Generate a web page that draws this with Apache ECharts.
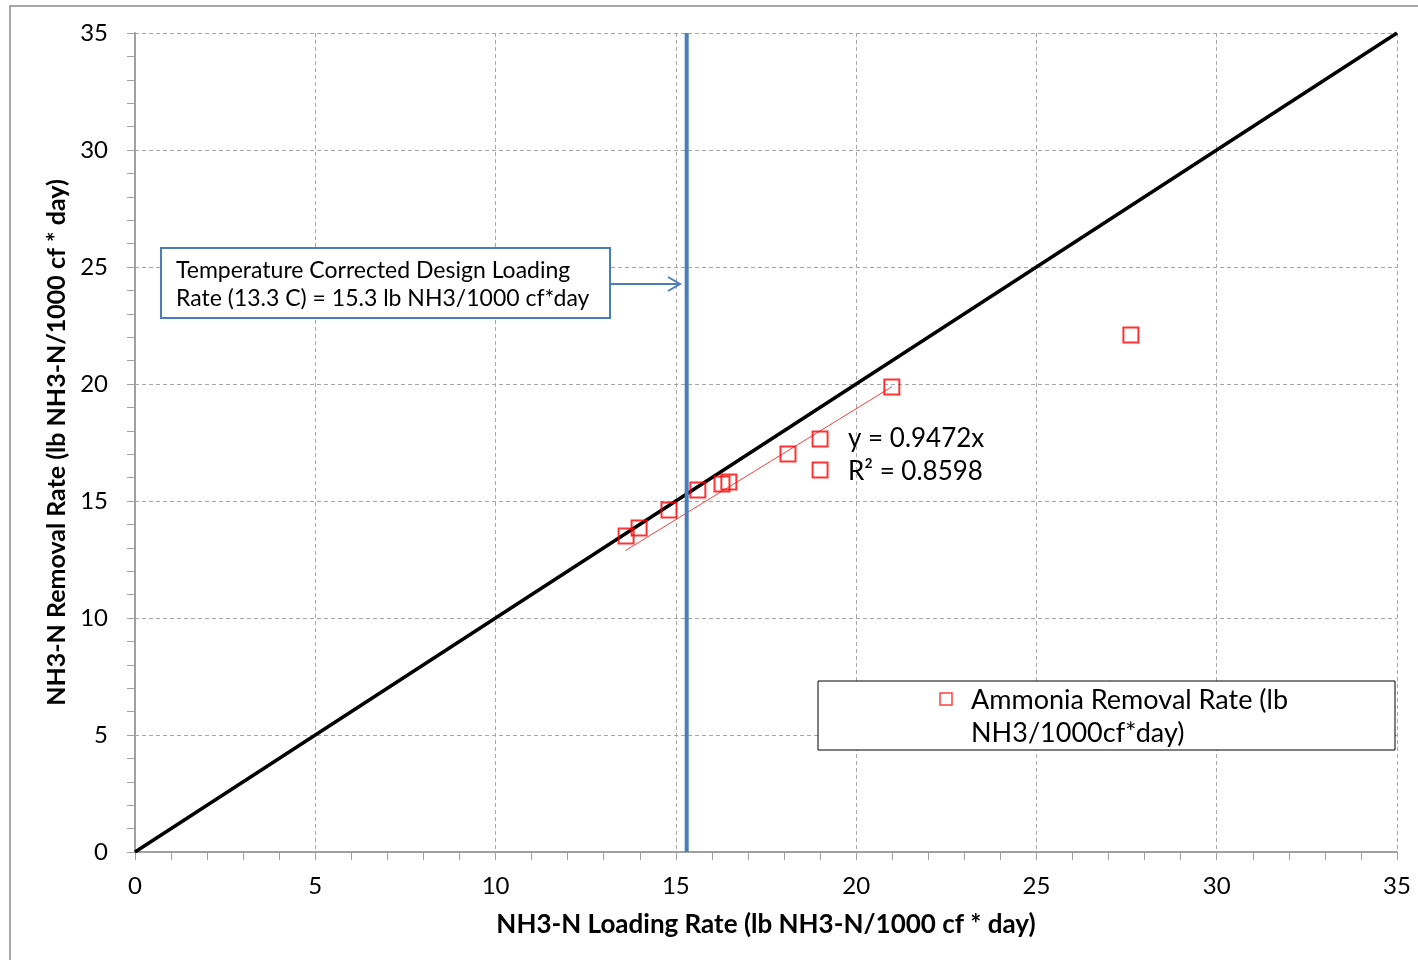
<!DOCTYPE html>
<html>
<head>
<meta charset="utf-8">
<script src="https://cdn.jsdelivr.net/npm/echarts@6/dist/echarts.min.js"></script>
<style>
  html, body { margin: 0; padding: 0; background: #fff; }
  #main { width: 1418px; height: 960px; }
</style>
</head>
<body>
<div id="main"></div>
<script>
// measured removal vs loading (lb NH3-N/1000 cf * day)
var loadingRate = [13.62, 13.98, 14.81, 15.61, 16.28, 16.47, 18.11, 19.0, 19.0, 20.99, 27.62];
var removalRate = [13.50, 13.85, 14.62, 15.47, 15.73, 15.81, 17.01, 17.65, 16.32, 19.87, 22.09];

// 1:1 line, linear trend (y = 0.9472x) and design loading line
var oneToOne = [[0, 0], [35, 35]];
var trendLine = [[13.6, 12.88], [21.0, 19.89]];
var designLine = [[15.3, 0], [15.3, 35]];

var axisTicks = [0, 5, 10, 15, 20, 25, 30, 35];
var seriesName = 'Ammonia Removal Rate (lb NH3/1000cf*day)';

var font = 'Lato, "Open Sans", sans-serif';
var gridColor = '#a6a6a6';

var points = loadingRate.map(function (x, i) { return [x, removalRate[i]]; });

function axis(name, gap, nameSize) {
    return {
        type: 'value',
        min: axisTicks[0],
        max: axisTicks[axisTicks.length - 1],
        interval: 5,
        name: name,
        nameLocation: 'middle',
        nameGap: gap,
        nameTextStyle: { fontFamily: font, fontSize: nameSize, fontWeight: 'bold', color: '#000' },
        axisLine: { show: true, onZero: false, lineStyle: { color: '#a0a0a0', width: 2 } },
        axisTick: { show: true, length: 8, inside: false, lineStyle: { color: '#a0a0a0' } },
        minorTick: { show: true, splitNumber: 5, length: 8, lineStyle: { color: '#a0a0a0' } },
        axisLabel: { fontFamily: font, fontSize: 24, color: '#000' },
        splitLine: { show: true, lineStyle: { color: gridColor, type: [4, 3], width: 1 } }
    };
}

var xAxis = axis('NH3-N Loading Rate (lb NH3-N/1000 cf * day)', 60, 26);
xAxis.axisLabel.margin = 22;
var yAxis = axis('NH3-N Removal Rate (lb NH3-N/1000 cf * day)', 65, 25);
yAxis.axisLabel.margin = 27;

var myChart = echarts.init(document.getElementById('main'));

var option = {
    animation: false,
    grid: { left: 135, right: 21, top: 33, bottom: 108 },
    xAxis: xAxis,
    yAxis: yAxis,
    series: [
        {
            name: 'trend',
            type: 'line',
            data: trendLine,
            symbol: 'none',
            lineStyle: { color: '#ff3b3b', width: 1 },
            z: 2
        },
        {
            name: '1:1',
            type: 'line',
            data: oneToOne,
            symbol: 'none',
            lineStyle: { color: '#000', width: 3.5 },
            z: 3
        },
        {
            name: 'design',
            type: 'line',
            data: designLine,
            symbol: 'none',
            lineStyle: { color: '#4a7ebb', width: 4 },
            z: 3
        },
        {
            name: seriesName,
            type: 'scatter',
            data: points,
            symbol: 'rect',
            symbolSize: 15,
            itemStyle: { color: 'rgba(0,0,0,0)', borderColor: '#ff0000', borderWidth: 2 },
            z: 4
        }
    ],
    graphic: [
        // outer chart frame
        { type: 'rect', shape: { x: 10, y: 6, width: 1420, height: 970 },
          style: { fill: 'none', stroke: '#8c8c8c', lineWidth: 1.5 }, silent: true },
        // annotation box
        { type: 'rect', shape: { x: 161, y: 248, width: 449, height: 70 },
          style: { fill: '#fff', stroke: '#4a7ebb', lineWidth: 2 }, z: 10 },
        { type: 'text', left: 176, top: 257, z: 11,
          style: { text: 'Temperature Corrected Design Loading\nRate (13.3 C) = 15.3 lb NH3/1000 cf*day',
                   font: '23px ' + font, lineHeight: 28, fill: '#000' } },
        { type: 'line', shape: { x1: 610, y1: 284, x2: 680, y2: 284 },
          style: { stroke: '#4a7ebb', lineWidth: 2 }, z: 10 },
        { type: 'polyline', shape: { points: [[668, 277], [680, 284], [668, 291]] },
          style: { stroke: '#4a7ebb', lineWidth: 2, fill: 'none' }, z: 10 },
        // trendline equation
        { type: 'text', left: 848, top: 422, z: 11,
          style: { text: 'y = 0.9472x\nR\u00b2 = 0.8598', font: '26px ' + font, lineHeight: 33, fill: '#000' } },
        // legend
        { type: 'rect', shape: { x: 818, y: 681, width: 577, height: 69 },
          style: { fill: '#fff', stroke: '#000', lineWidth: 1 }, z: 10 },
        { type: 'rect', shape: { x: 940, y: 693, width: 12, height: 12 },
          style: { fill: 'none', stroke: '#ff4040', lineWidth: 1.5 }, z: 11 },
        { type: 'text', left: 971, top: 684, z: 11,
          style: { text: 'Ammonia Removal Rate (lb\nNH3/1000cf*day)', font: '27px ' + font, lineHeight: 33, fill: '#000' } }
    ]
};

myChart.setOption(option);
</script>
</body>
</html>
